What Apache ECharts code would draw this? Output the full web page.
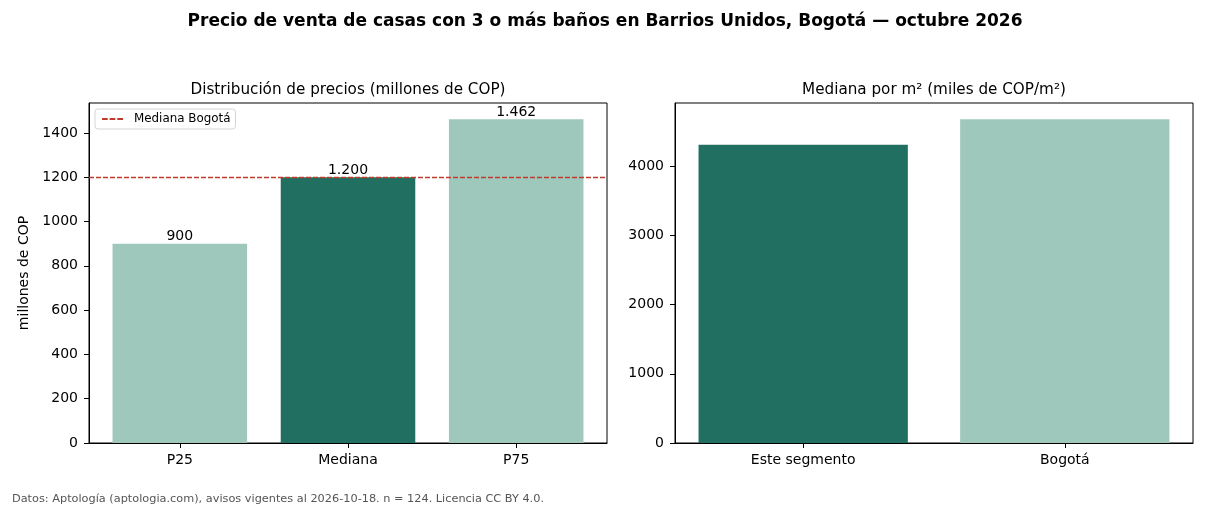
<!DOCTYPE html>
<html><head><meta charset="utf-8">
<script src="https://cdn.jsdelivr.net/npm/echarts@6/dist/echarts.min.js"></script>
<style>html,body{margin:0;padding:0;background:#fff}#c{width:1210px;height:506px}</style>
</head><body><div id="c"></div>
<script>
const leftCategories = ['P25', 'Mediana', 'P75'];
const leftValues = [900, 1200, 1462];
const leftColors = ['light', 'dark', 'light'];
const bogotaMedian = 1200;
const leftYTicks = [0, 200, 400, 600, 800, 1000, 1200, 1400];

const rightCategories = ['Este segmento', 'Bogotá'];
const rightValues = [4310, 4680];
const rightColors = ['dark', 'light'];
const rightYTicks = [0, 1000, 2000, 3000, 4000];

const DARK = '#206f60', LIGHT = '#9ec8bb', RED = '#c0392b';
const FONT = 'DejaVu Sans';
const fmt = v => v.toLocaleString('de-DE');

const plotW = 518, plotH = 340;
function xr(n){ const m = 0.05*(n-1+0.8); return [-0.4-m, n-1+0.4+m]; }
const lx = xr(leftCategories.length), rx = xr(rightCategories.length);
const lBar = 0.8*plotW/(lx[1]-lx[0]), rBar = 0.8*plotW/(rx[1]-rx[0]);
const lMax = Math.max(...leftValues)*1.05, rMax = Math.max(...rightValues)*1.05;

function xAxis(gi, cats, ext){
  const idx = cats.map((_, i) => i);
  return {type:'value', gridIndex:gi, min:ext[0], max:ext[1],
    splitLine:{show:false},
    axisLine:{show:true, onZero:false, lineStyle:{color:'#000', width:1}},
    axisTick:{show:true, length:5, customValues:idx, lineStyle:{color:'#000'}},
    axisLabel:{customValues:idx, formatter:v => cats[Math.round(v)], color:'#000', fontSize:14, fontFamily:FONT, margin:10}};
}
function yAxis(gi, ticks, max, name){
  return {type:'value', gridIndex:gi, min:0, max:max,
    name:name, nameLocation:'middle', nameRotate:90, nameGap:58,
    nameTextStyle:{color:'#000', fontSize:14, fontFamily:FONT},
    splitLine:{show:false},
    axisLine:{show:true, onZero:false, lineStyle:{color:'#000', width:1}},
    axisTick:{show:true, length:5, customValues:ticks, lineStyle:{color:'#000'}},
    axisLabel:{customValues:ticks, formatter:v => String(v), color:'#000', fontSize:14, fontFamily:FONT, margin:11}};
}

const chart = echarts.init(document.getElementById('c'), null, {renderer:'canvas'});
chart.setOption({
  animation:false,
  textStyle:{fontFamily:FONT},
  title:[
    {text:'Precio de venta de casas con 3 o más baños en Barrios Unidos, Bogotá — octubre 2026',
     left:600, top:8, textAlign:'center', textStyle:{fontSize:17, fontWeight:'bold', color:'#000', fontFamily:FONT}},
    {text:'Distribución de precios (millones de COP)', left:343, top:78, textAlign:'center',
     textStyle:{fontSize:15.2, fontWeight:'normal', color:'#000', fontFamily:FONT}},
    {text:'Mediana por m² (miles de COP/m²)', left:929, top:78, textAlign:'center',
     textStyle:{fontSize:15.2, fontWeight:'normal', color:'#000', fontFamily:FONT}},
    {text:'Datos: Aptología (aptologia.com), avisos vigentes al 2026-10-18. n = 124. Licencia CC BY 4.0.',
     left:7, top:489, textStyle:{fontSize:11.3, fontWeight:'normal', color:'#555', fontFamily:FONT}}
  ],
  legend:{data:[{name:'Mediana Bogotá', icon:'path://M0,0H6V2H0Z M8,0H14V2H8Z M16,0H22V2H16Z'}], left:95, top:109, orient:'vertical',
    backgroundColor:'#fff', borderColor:'#d5d5d5', borderWidth:1, borderRadius:3,
    padding:[4,5,4,7], itemWidth:21, itemHeight:2, itemGap:4,
    textStyle:{fontSize:11.9, color:'#000', fontFamily:FONT, padding:[0,0,0,6]}},
  grid:[
    {left:89, top:103, width:plotW, height:plotH, show:true, borderColor:'#000', borderWidth:1, backgroundColor:'transparent'},
    {left:675, top:103, width:plotW, height:plotH, show:true, borderColor:'#000', borderWidth:1, backgroundColor:'transparent'}
  ],
  xAxis:[xAxis(0, leftCategories, lx), xAxis(1, rightCategories, rx)],
  yAxis:[yAxis(0, leftYTicks, lMax, 'millones de COP'), yAxis(1, rightYTicks, rMax, '')],
  series:[
    {type:'bar', xAxisIndex:0, yAxisIndex:0, barWidth:lBar,
     data:leftValues.map((v,i) => ({value:[i, v], itemStyle:{color: leftColors[i]==='dark'?DARK:LIGHT}})),
     label:{show:true, position:'top', distance:0, color:'#000', fontSize:14, fontFamily:FONT,
       formatter:p => fmt(p.value[1])}},
    {type:'line', name:'Mediana Bogotá', xAxisIndex:0, yAxisIndex:0, data:[], symbol:'none',
     lineStyle:{color:RED, type:[5,2], width:1.3}, itemStyle:{color:RED},
     markLine:{silent:true, symbol:'none', label:{show:false},
       lineStyle:{color:RED, type:[5,2], width:1.3}, data:[{yAxis:bogotaMedian}]}},
    {type:'bar', xAxisIndex:1, yAxisIndex:1, barWidth:rBar,
     data:rightValues.map((v,i) => ({value:[i, v], itemStyle:{color: rightColors[i]==='dark'?DARK:LIGHT}}))}
  ]
});
</script></body></html>
